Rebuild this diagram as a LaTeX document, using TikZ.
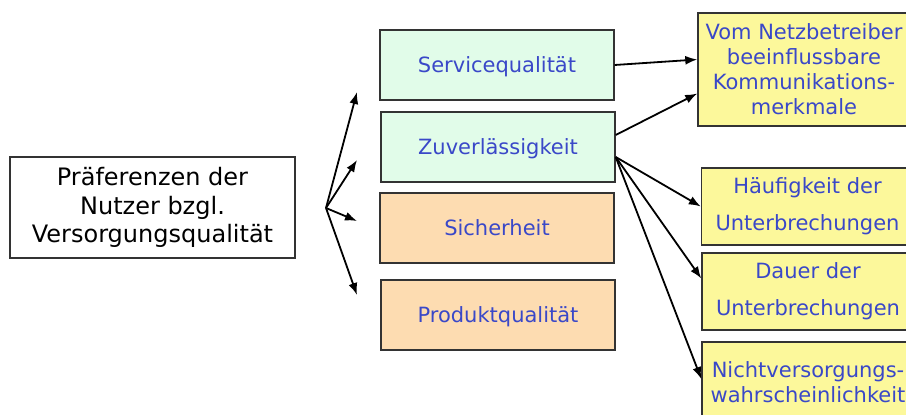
\documentclass[tikz,border=0pt]{standalone}
\usepackage{fontspec}
\setmainfont{DejaVu Sans}
\usetikzlibrary{arrows.meta}

\definecolor{boxgreen}{HTML}{E1FCE9}
\definecolor{boxorange}{HTML}{FDDCB1}
\definecolor{boxyellow}{HTML}{FCF89B}
\definecolor{textblue}{HTML}{3A48C8}
\definecolor{rim}{HTML}{333333}

\tikzset{
  box/.style={draw=rim,line width=1.4pt,align=center,inner sep=0pt},
  quality/.style={box,minimum width=234pt,minimum height=70pt,text depth=0pt,
    text=textblue,font=\fontsize{21}{25}\selectfont},
  feature/.style={box,fill=boxyellow,minimum width=212pt,
    text=textblue,font=\fontsize{21}{25}\selectfont},
  link/.style={-{Latex[length=12pt,width=9pt]},line width=1.8pt}
}

\begin{document}
\begin{tikzpicture}[x=1pt,y=-1pt]
\useasboundingbox (0,0) rectangle (906,415);

\node [box,minimum width=285pt,minimum height=101pt,
       font=\fontsize{24}{28.5}\selectfont] (pref) at (152.5,207.5)
      {Präferenzen der\\ Nutzer bzgl.\\ Versorgungsqualität};

\node [quality,fill=boxgreen]  (service)  at (497,65)  {Servicequalität};
\node [quality,fill=boxgreen]  (zuverl)   at (498,147) {Zuverlässigkeit};
\node [quality,fill=boxorange] (sicher)   at (497,228) {Sicherheit};
\node [quality,fill=boxorange] (produkt)  at (498,315) {Produktqualität};

\node [feature,minimum height=113pt] (netz)   at (804,69.5)
      {Vom Netzbetreiber\\ beeinflussbare\\ Kommunikations-\\ merkmale};
\node [feature,minimum height=77pt]  (haeufig) at (807.5,206.5)
      {Häufigkeit der\\[12pt] Unterbrechungen};
\node [feature,minimum height=77pt]  (dauer)   at (808,291.5)
      {Dauer der\\[12pt] Unterbrechungen};
\node [feature,minimum height=80pt]  (nicht)   at (808,382)
      {Nichtversorgungs-\\ wahrscheinlichkeit};

% fan in front of the four quality boxes
\coordinate (fan) at (326,208);
\coordinate (tip1) at (357,92);
\coordinate (tip2) at (357,160);
\coordinate (tip3) at (357,221);
\coordinate (tip4) at (357,295);
\draw [link] (fan) -- (tip1);
\draw [link] (fan) -- (tip2);
\draw [link] (fan) -- (tip3);
\draw [link] (fan) -- (tip4);

\draw [link] (service.east) -- ([yshift=10pt]netz.west);
\draw [link] ([yshift=12pt]zuverl.east) -- ([yshift=-24pt]netz.west);
\draw [link] ([yshift=-10pt]zuverl.east) -- (haeufig.west);
\draw [link] ([yshift=-10pt]zuverl.east) -- ([yshift=13pt]dauer.west);
\draw [link] ([yshift=-10pt]zuverl.east) -- ([yshift=3pt]nicht.west);
\end{tikzpicture}
\end{document}
